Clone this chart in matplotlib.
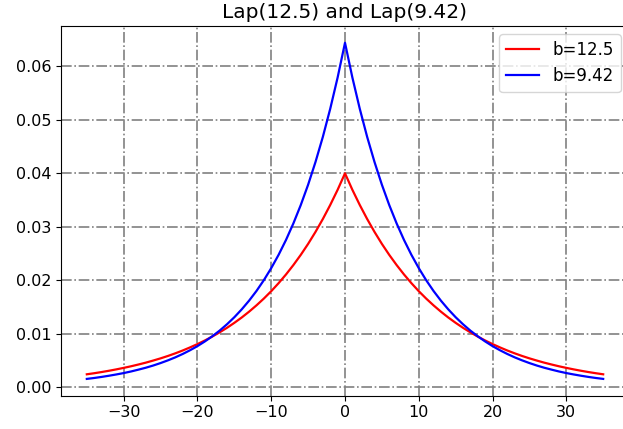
import numpy as np
import matplotlib
matplotlib.use('Agg')
import matplotlib.pyplot as plt

# values (one half, the curves are symmetric about 0)
x_half = list(range(0, 36))
red_half = [0.04000, 0.03692, 0.03409, 0.03147, 0.02905, 0.02681, 0.02475, 0.02285,
            0.02109, 0.01947, 0.01797, 0.01659, 0.01532, 0.01414, 0.01305, 0.01205,
            0.01112, 0.01027, 0.00948, 0.00875, 0.00808, 0.00746, 0.00688, 0.00635,
            0.00586, 0.00541, 0.00500, 0.00461, 0.00426, 0.00393, 0.00363, 0.00335,
            0.00309, 0.00285, 0.00263, 0.00243]
blue_half = [0.06440, 0.05791, 0.05208, 0.04683, 0.04212, 0.03787, 0.03406, 0.03063,
             0.02754, 0.02477, 0.02228, 0.02003, 0.01801, 0.01620, 0.01457, 0.01310,
             0.01178, 0.01059, 0.00953, 0.00857, 0.00770, 0.00693, 0.00623, 0.00560,
             0.00504, 0.00453, 0.00407, 0.00366, 0.00330, 0.00296, 0.00266, 0.00240,
             0.00216, 0.00194, 0.00174, 0.00157]

x = [-v for v in x_half[::-1]] + x_half[1:]
lap_red = red_half[::-1] + red_half[1:]
lap_blue = blue_half[::-1] + blue_half[1:]

fig = plt.figure(figsize=(6.23, 4.29), dpi=100)
ax = fig.add_axes([61 / 623, 33.3 / 429, 568 / 623, 369.7 / 429])

ax.plot(x, lap_red, color='red', lw=1.6, label='b=12.5')
ax.plot(x, lap_blue, color='blue', lw=1.6, label='b=9.42')

ax.set_title('Lap(12.5) and Lap(9.42)', fontsize=14.5)
ax.set_xticks([-30, -20, -10, 0, 10, 20, 30])
ax.set_yticks([0.00, 0.01, 0.02, 0.03, 0.04, 0.05, 0.06])
ax.yaxis.set_major_formatter(matplotlib.ticker.FormatStrFormatter('%.2f'))
ax.tick_params(labelsize=11.5)
ax.grid(True, color='gray', linestyle='-.', linewidth=1.2)
ax.legend(loc='upper right', fontsize=12)

plt.savefig('out.png', dpi=100)
